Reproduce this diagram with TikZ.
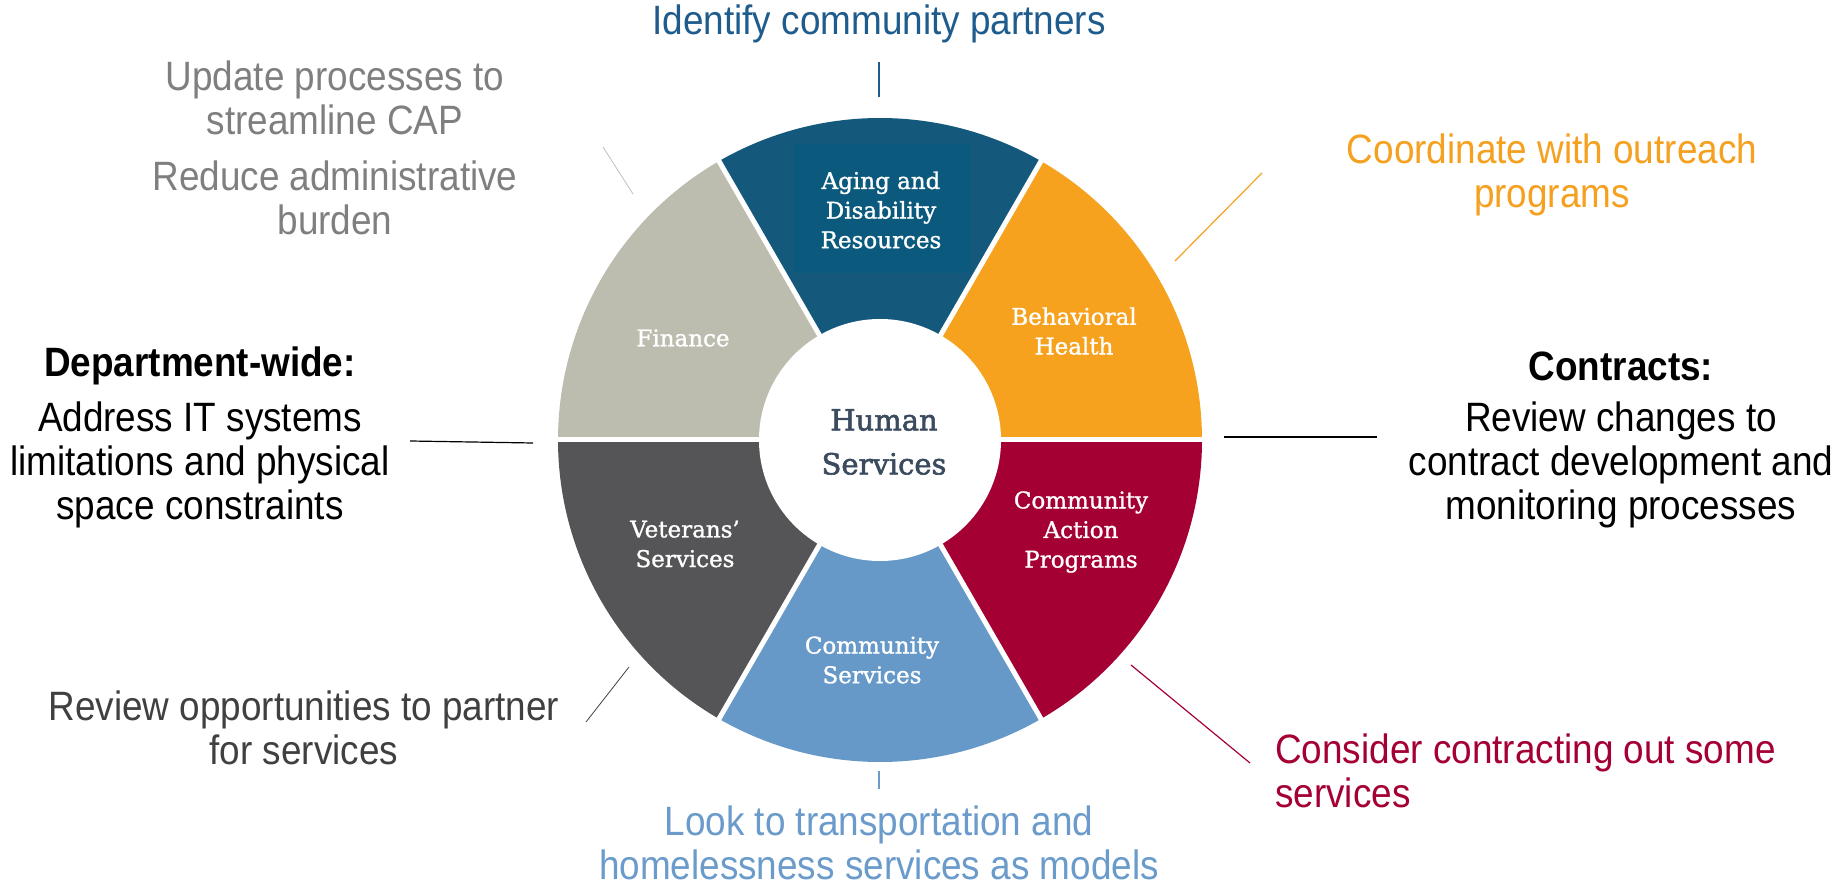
\documentclass[tikz,border=0pt]{standalone}
\usepackage{fontspec}
\setmainfont{Liberation Sans}[FakeStretch=0.9]
\newfontfamily\segfont{DejaVu Serif}[FakeBold=1.2]
\newfontfamily\humanfont{DejaVu Serif}[FakeBold=2]
\definecolor{agingc}{HTML}{14587B}
\definecolor{agingbox}{HTML}{0B5A7D}
\definecolor{behavc}{HTML}{F6A21E}
\definecolor{actionc}{HTML}{A40033}
\definecolor{commc}{HTML}{6699C8}
\definecolor{vetc}{HTML}{555557}
\definecolor{finc}{HTML}{BCBCAF}
\definecolor{humanc}{HTML}{3B4A5E}
\definecolor{identc}{HTML}{1F5C8E}
\definecolor{grayc}{HTML}{7F7F7F}
\definecolor{orangec}{HTML}{F5A01F}
\definecolor{darkc}{HTML}{404040}
\definecolor{lookc}{HTML}{6A9BCB}
\definecolor{crimc}{HTML}{A50034}
\begin{document}
\begin{tikzpicture}[x=1pt,y=1pt,
  lbl/.style={align=center, inner sep=0pt, font=\fontsize{41}{44}\selectfont},
  seg/.style={align=center, inner sep=0pt, text=white, font=\segfont\fontsize{23}{29.6}\selectfont},
  conn/.style={line width=1.2pt}]
\useasboundingbox (0,0) rectangle (1846,884);
\coordinate (C) at (880,444);
% wheel sectors
\fill[behavc]  (C) -- ++(0:322)   arc[start angle=0,   end angle=60,  radius=322] -- cycle;
\fill[agingc]  (C) -- ++(60:322)  arc[start angle=60,  end angle=120, radius=322] -- cycle;
\fill[finc]    (C) -- ++(120:322) arc[start angle=120, end angle=180, radius=322] -- cycle;
\fill[vetc]    (C) -- ++(180:322) arc[start angle=180, end angle=240, radius=322] -- cycle;
\fill[commc]   (C) -- ++(240:322) arc[start angle=240, end angle=300, radius=322] -- cycle;
\fill[actionc] (C) -- ++(300:322) arc[start angle=300, end angle=360, radius=322] -- cycle;
\fill[agingbox] (794,611) rectangle (971,740);
\foreach \a in {0,60,...,300} \draw[white,line width=5] (C) -- ++(\a:330);
\fill[white] (C) circle[radius=121];
% segment labels
\node[seg] (aging) at (881,674) {Aging and\\Disability\\Resources};
\node[seg] (behav) at (1074,553) {Behavioral\\Health};
\node[seg] (fin) at (683,546) {Finance};
\node[seg] (vet) at (685,340) {Veterans’\\Services};
\node[seg] (action) at (1081,352) {Community\\Action\\Programs};
\node[seg] (comm) at (872,224) {Community\\Services};
\node[align=center, inner sep=0pt, text=humanc, font=\humanfont\fontsize{29}{44}\selectfont] (human) at (884,442) {Human\\Services};
% outer labels
\node[lbl, text=identc] (ident) at (879,860) {Identify community partners};
\node[lbl, text=grayc] (update) at (335,786) {Update processes to\\streamline CAP};
\node[lbl, text=grayc] (reduce) at (335,686) {Reduce administrative\\burden};
\node[lbl, text=orangec] (coord) at (1552,709) {Coordinate with outreach\\programs};
\node[lbl, font=\fontsize{41}{44}\selectfont\bfseries] (dept) at (200,518) {Department-wide:};
\node[lbl] (address) at (200,419) {Address IT systems\\limitations and physical\\space constraints};
\node[lbl, font=\fontsize{41}{44}\selectfont\bfseries] (contracts) at (1621,518) {Contracts:};
\node[lbl] (review) at (1621,419) {Review changes to\\contract development and\\monitoring processes};
\node[lbl, text=darkc] (partner) at (304,156) {Review opportunities to partner\\for services};
\node[lbl, text=lookc] (look) at (879,41) {Look to transportation and\\homelessness services as models};
\node[lbl, text=crimc, align=left, anchor=west] (consider) at (1275,113) {Consider contracting out some\\services};
% connector end points
\coordinate (t1) at (879,822); \coordinate (t2) at (879,787);
\coordinate (ul1) at (603,737); \coordinate (ul2) at (633,690);
\coordinate (ur1) at (1262,711); \coordinate (ur2) at (1175,623);
\coordinate (l1) at (410,443); \coordinate (l2) at (533,441);
\coordinate (r1) at (1224,447); \coordinate (r2) at (1377,447);
\coordinate (ll1) at (586,162); \coordinate (ll2) at (629,217);
\coordinate (b1) at (879,113); \coordinate (b2) at (879,95);
\coordinate (lr1) at (1131,219); \coordinate (lr2) at (1250,121);
\draw[conn, identc] (t1) -- (t2);
\draw[conn, gray!50, line width=0.8pt] (ul1) -- (ul2);
\draw[conn, orangec] (ur1) -- (ur2);
\draw[conn, black] (l1) -- (l2);
\draw[conn, black] (r1) -- (r2);
\draw[conn, darkc, line width=0.8pt] (ll1) -- (ll2);
\draw[conn, lookc] (b1) -- (b2);
\draw[conn, crimc] (lr1) -- (lr2);
\end{tikzpicture}
\end{document}
